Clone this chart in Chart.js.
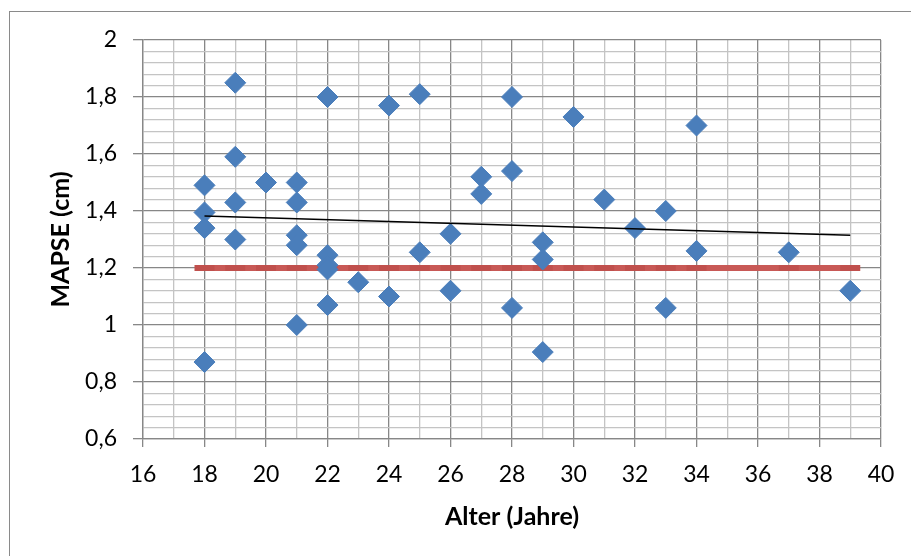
<!DOCTYPE html>
<html>
<head>
<meta charset="utf-8">
<script src="https://cdn.jsdelivr.net/npm/chart.js@4/dist/chart.umd.min.js"></script>
<style>
  body { margin: 0; background: #fff; overflow: hidden; }
  #frame { position: absolute; left: 9px; top: 11px; width: 1000px; height: 1000px; border: 1px solid #8a8a8a; }
  #chart { position: absolute; left: 0; top: 0; }
</style>
</head>
<body>
<div id="frame"></div>
<canvas id="chart" width="911" height="556"></canvas>
<script>
// Alter (Jahre) / MAPSE (cm)
const ages = [18, 18, 18, 18, 19, 19, 19, 19, 20, 21, 21, 21, 21, 21, 22, 22, 22, 22, 22, 23, 24, 24, 25, 25,
              26, 26, 27, 27, 28, 28, 28, 29, 29, 29, 30, 31, 32, 33, 33, 34, 34, 37, 39];
const mapse = [1.49, 1.395, 1.34, 0.87, 1.85, 1.59, 1.43, 1.30, 1.50, 1.50, 1.43, 1.315, 1.28, 1.00,
               1.80, 1.245, 1.21, 1.195, 1.07, 1.15, 1.77, 1.10, 1.81, 1.255, 1.32, 1.12, 1.52, 1.46,
               1.80, 1.54, 1.06, 1.29, 1.23, 0.905, 1.73, 1.44, 1.34, 1.40, 1.06, 1.70, 1.26, 1.255, 1.12];
const refValue = 1.2;
const xMin = 16, xMax = 40, xStep = 2;
const yMin = 0.6, yMax = 2, yStep = 0.2;

const points = ages.map((a, i) => ({ x: a, y: mapse[i] }));

// Referenzlinie bei 1,2 an jedem vorkommenden Alter
const refPoints = [...new Set(ages)].map(a => ({ x: a, y: refValue }));

// lineare Trendlinie (kleinste Quadrate)
const n = ages.length;
const mx = ages.reduce((s, v) => s + v, 0) / n;
const my = mapse.reduce((s, v) => s + v, 0) / n;
let sxy = 0, sxx = 0;
ages.forEach((a, i) => { sxy += (a - mx) * (mapse[i] - my); sxx += (a - mx) * (a - mx); });
const slope = sxy / sxx;
const xLo = Math.min(...ages), xHi = Math.max(...ages);
const trend = [xLo, xHi].map(a => ({ x: a, y: my + slope * (a - mx) }));

const isMajorY = v => Math.abs(v / yStep - Math.round(v / yStep)) < 1e-6;
const isMajorX = v => Math.abs(v / xStep - Math.round(v / xStep)) < 1e-6;
const majorCol = '#878787', minorCol = '#c4c4c4';
const font = { family: 'Lato', size: 23 };
const titleFont = { family: 'Lato', size: 25, weight: 'bold' };

new Chart(document.getElementById('chart'), {
    type: 'scatter',
    data: {
        datasets: [
            {
                data: trend, showLine: true, borderColor: '#000', borderWidth: 1.6,
                pointRadius: 0, order: 0
            },
            {
                data: points, backgroundColor: '#4a7ebb', borderColor: '#4a7ebb', borderWidth: 1,
                pointStyle: 'rectRot', pointRadius: 10.5, order: 1
            },
            {
                data: refPoints, showLine: true, borderColor: '#c85956', borderWidth: 6,
                pointStyle: 'line', pointRadius: 10, pointBorderColor: '#c0504d', pointBorderWidth: 6,
                order: 2
            }
        ]
    },
    options: {
        responsive: false,
        devicePixelRatio: 1,
        animation: false,
        layout: { padding: { left: 0, top: 40, right: 30, bottom: 0 } },
        plugins: { legend: { display: false }, tooltip: { enabled: false } },
        scales: {
            x: {
                type: 'linear', min: xMin, max: xMax,
                afterFit: s => { s.height = 117; },
                border: { color: majorCol, width: 1.3 },
                grid: {
                    color: c => isMajorX(c.tick.value) ? majorCol : minorCol,
                    tickColor: c => isMajorX(c.tick.value) ? majorCol : 'rgba(0,0,0,0)',
                    lineWidth: 1.3, tickLength: 8
                },
                ticks: {
                    stepSize: 1, autoSkip: false, maxRotation: 0, color: '#000', font, padding: 14,
                    callback: v => isMajorX(v) ? String(v) : ''
                },
                title: {
                    display: true, text: 'Alter (Jahre)', color: '#000',
                    font: titleFont, padding: { top: 0, bottom: 24 }
                }
            },
            y: {
                type: 'linear', min: yMin, max: yMax,
                afterFit: s => { s.width = 143; },
                border: { color: majorCol, width: 1.3 },
                grid: {
                    color: c => isMajorY(c.tick.value) ? majorCol : minorCol,
                    tickColor: c => isMajorY(c.tick.value) ? majorCol : 'rgba(0,0,0,0)',
                    lineWidth: 1.3, tickLength: 10
                },
                ticks: {
                    stepSize: 0.04, autoSkip: false, color: '#000', font, padding: 16,
                    callback: v => isMajorY(v) ? String(Number(v.toFixed(1))).replace('.', ',') : ''
                },
                title: {
                    display: true, text: 'MAPSE (cm)', color: '#000',
                    font: titleFont, padding: { top: 46, bottom: 0 }
                }
            }
        }
    }
});
</script>
</body>
</html>
